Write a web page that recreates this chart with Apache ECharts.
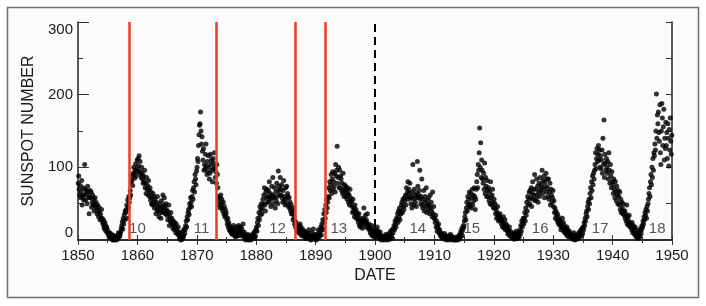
<!DOCTYPE html>
<html><head><meta charset="utf-8">
<script src="https://cdn.jsdelivr.net/npm/echarts@6/dist/echarts.min.js"></script>
<style>html,body{margin:0;padding:0;background:#fff}#c{width:706px;height:306px}</style>
</head><body><div id="c"></div>
<script>
// Monthly sunspot numbers, Jan..Dec, per decade
const ssn1850s = [
78,88,70,62,75,58,66,82,48,60,72,55,
62,104,70,55,63,68,50,74,66,58,36,60,
68,58,66,45,52,62,48,56,40,50,58,46,
52,44,36,48,40,32,45,38,28,35,30,42,
30,25,22,28,18,15,24,20,12,18,16,10,
12,8,5,10,4,9,2,6,3,0,7,5,
1,0,2,5,3,0,1,6,2,10,4,8,
5,9,12,16,20,25,15,30,22,35,28,40,
38,42,48,30,55,45,60,52,58,68,62,80,
82,88,75,92,100,90,85,96,105,88,98,110];
const ssn1860s = [
94,112,102,116,95,108,90,86,100,92,84,78,
88,80,96,72,78,64,86,70,75,62,82,68,
60,72,55,66,50,58,48,64,52,60,44,56,
48,36,52,42,60,40,46,32,50,38,44,30,
54,44,38,62,48,40,58,46,36,50,42,34,
40,28,36,48,20,32,26,38,24,30,22,16,
26,20,14,24,18,10,22,15,12,8,18,10,
5,2,10,0,4,8,1,12,3,6,15,9,
14,20,26,18,32,28,38,42,35,50,45,58,
52,46,60,68,56,72,80,66,90,84,76,95];
const ssn1870s = [
100,112,108,130,145,158,160,176,150,132,142,122,
110,126,96,104,98,118,132,102,90,108,94,116,
100,84,92,118,104,110,96,80,112,106,98,120,
100,86,94,78,104,90,72,60,54,48,58,44,
62,50,56,44,40,52,36,46,32,42,34,38,
28,22,30,18,24,14,20,12,16,10,13,8,
16,8,20,12,6,14,4,10,18,8,12,6,
20,10,14,18,8,6,16,12,9,22,5,11,
3,6,0,5,2,8,1,4,0,7,2,3,
1,0,3,2,8,4,6,10,2,12,5,14];
const ssn1880s = [
18,12,24,30,20,38,28,46,34,42,50,36,
44,56,50,62,72,48,40,66,58,70,52,60,
68,52,80,58,64,46,56,74,62,86,50,60,
58,72,44,66,54,78,60,50,95,68,74,62,
86,70,62,76,58,52,68,82,54,60,48,72,
56,74,50,64,60,46,58,44,52,40,48,36,
36,40,28,44,32,22,26,18,24,14,20,12,
16,20,10,14,22,8,18,12,6,15,9,11,
8,4,12,6,2,10,5,7,3,9,14,4,
1,6,0,4,10,2,5,15,3,8,1,6];
const ssn1890s = [
4,0,2,8,5,14,3,10,6,12,18,7,
22,16,28,14,36,24,42,30,48,38,56,44,
52,60,72,58,80,68,76,90,64,84,94,70,
80,74,92,66,104,88,96,129,78,86,100,72,
96,72,88,84,68,78,64,92,70,60,76,66,
74,60,68,56,72,64,52,62,48,70,58,54,
52,46,38,56,40,44,32,48,36,42,30,38,
34,28,24,36,20,30,18,26,22,28,16,24,
30,44,22,26,34,18,28,24,36,20,16,22,
14,18,10,16,8,20,6,12,9,15,4,11];
const ssn1900s = [
10,6,14,8,18,4,12,9,2,7,11,5,
0,3,1,4,2,6,0,1,5,2,8,3,
6,0,4,2,9,1,5,12,3,7,14,2,
10,16,20,14,26,22,18,30,28,36,24,40,
32,44,28,40,36,48,52,38,56,46,42,58,
54,62,48,72,60,66,80,56,70,64,78,58,
50,60,44,66,104,56,48,70,62,52,58,46,
64,108,74,58,62,68,96,56,50,60,84,48,
44,56,68,40,52,60,46,72,38,54,48,42,
58,48,36,62,44,52,40,32,66,36,46,30];
const ssn1910s = [
30,24,34,18,26,12,20,16,22,10,14,8,
6,10,4,8,2,7,5,3,9,1,6,4,
0,2,5,1,4,6,0,3,8,2,1,5,
2,0,1,3,0,2,1,0,4,1,0,3,
3,6,1,8,4,12,10,16,6,14,20,18,
26,32,38,28,44,52,40,60,48,56,66,46,
50,64,44,58,70,48,62,54,72,60,42,56,
70,80,90,72,104,96,120,154,100,134,86,110,
96,84,78,92,70,106,64,86,74,60,82,68,
60,72,54,66,50,80,58,48,62,70,52,44];
const ssn1920s = [
56,44,50,36,42,30,38,46,32,26,34,28,
36,28,30,22,26,18,24,32,20,16,28,14,
22,16,20,12,8,14,10,18,6,12,9,4,
4,8,2,6,10,1,5,3,7,12,2,9,
2,6,10,4,14,8,20,12,26,18,24,30,
22,30,38,26,44,34,52,40,60,48,56,66,
50,68,58,72,46,64,80,56,70,62,90,54,
70,56,84,62,74,52,66,78,60,86,68,72,
76,96,64,82,70,88,58,80,74,92,66,84,
72,60,84,56,66,78,48,70,62,52,58,68];
const ssn1930s = [
46,54,38,44,30,40,34,28,36,24,32,22,
28,20,26,14,22,18,30,16,24,12,20,10,
16,12,8,18,6,14,10,4,12,7,9,5,
8,4,2,6,1,10,3,0,5,2,7,1,
2,6,4,10,3,8,12,5,14,7,16,9,
18,14,24,20,30,26,36,40,32,46,52,42,
56,50,64,72,58,80,68,88,76,92,84,96,
104,120,98,112,126,108,118,130,110,124,100,116,
98,110,124,92,140,104,165,86,118,106,96,112,
100,92,108,84,120,96,78,104,88,72,94,80];
const ssn1940s = [
76,64,84,70,58,80,66,54,74,62,50,68,
60,48,66,42,56,38,52,44,36,50,40,34,
40,30,36,26,48,22,32,28,20,34,24,18,
22,18,14,24,10,20,16,12,8,18,6,14,
4,8,2,6,10,3,12,5,16,9,14,20,
18,26,22,32,28,38,34,42,30,46,40,50,
56,64,72,60,80,90,76,100,86,112,96,120,
116,132,124,150,201,140,172,160,176,148,136,186,
120,104,150,188,168,130,156,180,110,140,126,162,
130,148,112,160,140,102,152,124,168,136,118,144];

const decades = [[1850, ssn1850s],[1860, ssn1860s],[1870, ssn1870s],[1880, ssn1880s],[1890, ssn1890s],
                 [1900, ssn1900s],[1910, ssn1910s],[1920, ssn1920s],[1930, ssn1930s],[1940, ssn1940s]];

const redLineYears = [1858.55, 1873.2, 1886.6, 1891.55];
const dashedLineYear = 1900;
const cycleLabels = ['10','11','12','13','14','15','16','17','18'];
const cycleLabelYears = [1860.0, 1870.8, 1883.6, 1893.9, 1907.2, 1916.3, 1927.8, 1937.9, 1947.5];
const cycleLabelLevel = 16;

const xTicks = [1850, 1860, 1870, 1880, 1890, 1900, 1910, 1920, 1930, 1940, 1950];
const yTicks = [0, 100, 200, 300];

const points = [];
decades.forEach(([start, vals]) => {
  vals.forEach((v, i) => points.push([start + (i + 0.5) / 12, v]));
});

const FONT = '"Liberation Sans", Arial, Helvetica, sans-serif';
const chart = echarts.init(document.getElementById('c'), null, {renderer: 'canvas'});

const gridL = 78, gridT = 22, gridR = 34, gridB = 66;

chart.setOption({
  animation: false,
  backgroundColor: '#ffffff',
  graphic: [{
    type: 'rect', z: -10, silent: true,
    shape: {x: 7.5, y: 7.5, width: 691, height: 290},
    style: {fill: '#fbfbfb', stroke: '#6e6e6e', lineWidth: 1.5}
  }],
  grid: {left: gridL, top: gridT, right: gridR, bottom: gridB, containLabel: false},
  xAxis: [{
    type: 'value', min: xTicks[0], max: xTicks[xTicks.length - 1], interval: 10,
    name: 'DATE', nameLocation: 'middle', nameGap: 26,
    nameTextStyle: {fontFamily: FONT, fontSize: 16, color: '#1a1a1a'},
    axisLine: {show: true, lineStyle: {color: '#222', width: 1.5}},
    axisTick: {show: true, inside: true, length: 5, lineStyle: {color: '#333'}},
    minorTick: {show: true, splitNumber: 2, length: 3, lineStyle: {color: '#333'}},
    axisLabel: {fontFamily: FONT, fontSize: 15, color: '#1a1a1a', margin: 8, formatter: v => String(v)},
    splitLine: {show: false}
  }, {
    type: 'value', position: 'top', min: xTicks[0], max: xTicks[xTicks.length - 1], interval: 10,
    axisLine: {show: true, lineStyle: {color: '#222', width: 1.5}},
    axisTick: {show: true, inside: true, length: 5, lineStyle: {color: '#333'}},
    minorTick: {show: true, splitNumber: 2, length: 3, lineStyle: {color: '#333'}},
    axisLabel: {show: false}, splitLine: {show: false}
  }],
  yAxis: [{
    type: 'value', min: yTicks[0], max: yTicks[yTicks.length - 1], interval: 100,
    name: 'SUNSPOT NUMBER', nameLocation: 'middle', nameGap: 41, nameRotate: 90,
    nameTextStyle: {fontFamily: FONT, fontSize: 16, color: '#1a1a1a'},
    axisLine: {show: true, lineStyle: {color: '#222', width: 1.5}},
    axisTick: {show: true, inside: true, length: 11, lineStyle: {color: '#333'}},
    minorTick: {show: true, splitNumber: 2, length: 5, lineStyle: {color: '#333'}},
    axisLabel: {fontFamily: FONT, fontSize: 15, color: '#1a1a1a', margin: 5,
                verticalAlignMinLabel: 'bottom', verticalAlignMaxLabel: 'top'},
    splitLine: {show: false}
  }, {
    type: 'value', position: 'right', min: yTicks[0], max: yTicks[yTicks.length - 1], interval: 100,
    axisLine: {show: true, lineStyle: {color: '#222', width: 1.5}},
    axisTick: {show: true, inside: true, length: 6, lineStyle: {color: '#333'}},
    minorTick: {show: true, splitNumber: 2, length: 6, lineStyle: {color: '#333'}},
    axisLabel: {show: false}, splitLine: {show: false}
  }],
  series: [{
    type: 'scatter', name: 'labels', silent: true, z: 1,
    symbolSize: 0,
    data: cycleLabelYears.map((y, i) => ({value: [y, cycleLabelLevel], name: cycleLabels[i]})),
    label: {show: true, position: 'inside', formatter: p => p.name,
            fontFamily: FONT, fontSize: 15, color: '#2a2a2a'}
  }, {
    type: 'scatter', name: 'ssn', silent: true, z: 3,
    symbol: 'circle', symbolSize: 5,
    itemStyle: {color: '#000'},
    data: points,
    markLine: {
      silent: true, symbol: ['none', 'none'], label: {show: false}, z: 4,
      data: redLineYears.map(y => ({xAxis: y, lineStyle: {color: '#ea3d2a', width: 2.5, type: 'solid'}}))
        .concat([{xAxis: dashedLineYear, lineStyle: {color: '#000', width: 2, type: [8, 5]}}])
    }
  }]
});
</script>
</body></html>
